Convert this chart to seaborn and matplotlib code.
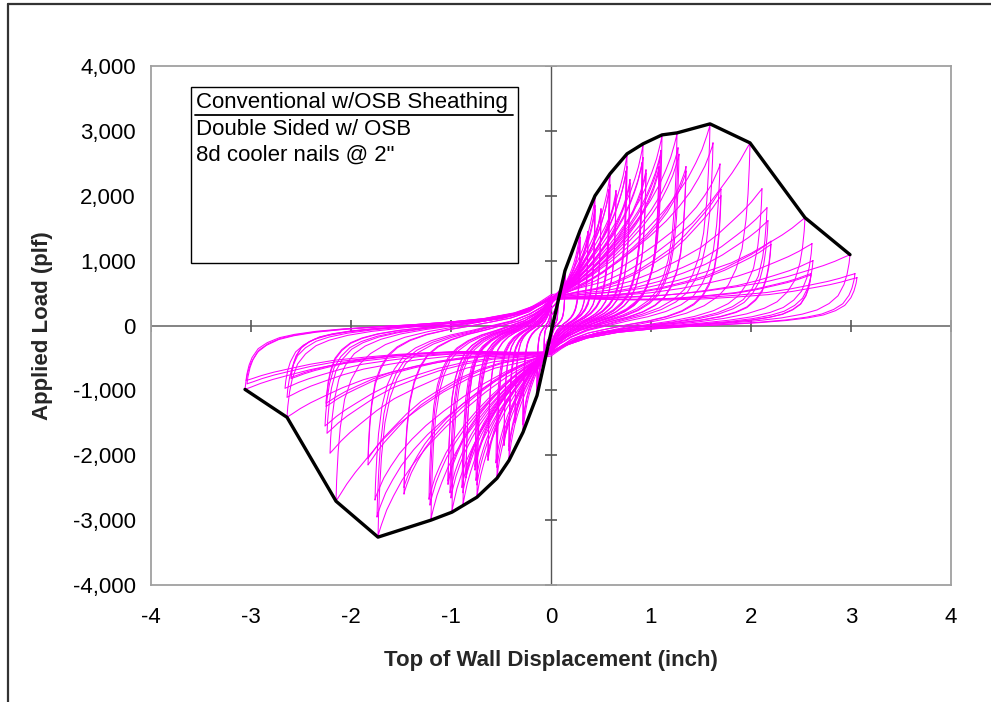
import numpy as np
import pandas as pd
import matplotlib
matplotlib.use("Agg")
import matplotlib.pyplot as plt
from matplotlib.lines import Line2D
from matplotlib.patches import Rectangle
from matplotlib.ticker import FuncFormatter
import seaborn as sns

### Cycle peaks
# positive excursion: peak displacement (inch) and peak load (plf)
pos_disp = [0.07, 0.07, 0.07, 0.14, 0.14, 0.14, 0.29, 0.29, 0.29,
            0.44, 0.44, 0.44, 0.37, 0.37,
            0.59, 0.59, 0.58, 0.50, 0.50,
            0.76, 0.76, 0.75, 0.65, 0.65,
            0.92, 0.92, 0.91, 0.79, 0.79,
            1.11, 1.10, 1.09, 0.95, 0.95,
            1.26, 1.27, 1.28, 1.08, 1.08,
            1.59, 1.62, 1.69, 1.35, 1.35,
            1.99, 2.11, 2.16, 2.17, 1.70, 1.70,
            2.54, 2.61, 2.62, 2.20, 2.20,
            2.99, 3.04, 3.06, 2.60, 2.60]
pos_load = [480, 450, 440, 846, 790, 760, 1462, 1360, 1310,
            2000, 1850, 1790, 1450, 1400,
            2338, 2170, 2100, 1800, 1760,
            2646, 2450, 2380, 2080, 2030,
            2800, 2590, 2510, 2250, 2200,
            2938, 2700, 2600, 2400, 2350,
            2969, 2740, 2640, 2450, 2400,
            3108, 2815, 2490, 2450, 2380,
            2815, 2108, 1815, 1615, 2100, 2000,
            1662, 1262, 1000, 1300, 1250,
            1092, 800, 738, 800, 780]
# negative excursion (magnitudes)
neg_disp = [0.07, 0.07, 0.07, 0.14, 0.14, 0.14, 0.28, 0.28, 0.28,
            0.42, 0.42, 0.42, 0.36, 0.36,
            0.54, 0.54, 0.55, 0.47, 0.47,
            0.74, 0.74, 0.75, 0.63, 0.63,
            0.88, 0.88, 0.89, 0.76, 0.76,
            0.99, 1.00, 1.01, 0.85, 0.85,
            1.20, 1.21, 1.22, 1.03, 1.03,
            1.73, 1.74, 1.76, 1.47, 1.47,
            2.15, 2.21, 2.24, 2.26, 1.83, 1.83,
            2.64, 2.64, 2.66, 2.25, 2.25,
            3.06, 3.04, 3.05, 2.60, 2.60]
neg_load = [520, 490, 470, 1080, 1000, 960, 1646, 1530, 1480,
            2080, 1930, 1870, 1500, 1450,
            2354, 2190, 2120, 1850, 1800,
            2646, 2460, 2390, 2080, 2030,
            2780, 2580, 2500, 2230, 2180,
            2877, 2660, 2580, 2350, 2300,
            3000, 2770, 2680, 2450, 2400,
            3262, 2954, 2692, 2600, 2500,
            2708, 1970, 1662, 1550, 2150, 2050,
            1415, 1108, 969, 1250, 1200,
            985, 900, 850, 820, 800]
# load where each loop crosses zero displacement (pinching)
pinch_load = [150, 150, 150, 250, 250, 250, 320, 320, 320,
              360, 360, 360, 330, 330,
              380, 380, 380, 350, 350,
              400, 400, 400, 370, 370,
              400, 400, 400, 380, 380,
              400, 400, 400, 380, 380,
              400, 400, 400, 380, 380,
              400, 400, 400, 380, 380,
              390, 390, 390, 385, 380, 380,
              385, 385, 385, 380, 380,
              385, 385, 385, 380, 380]
post_peak = [False] * 44 + [True] * 16

### Envelope (black)
env_disp = [-3.06, -2.64, -2.15, -1.73, -1.20, -0.99, -0.74, -0.54, -0.42, -0.28, -0.14, 0.0,
            0.14, 0.29, 0.44, 0.59, 0.76, 0.92, 1.11, 1.26, 1.59, 1.99, 2.54, 2.99]
env_load = [-985, -1415, -2708, -3262, -3000, -2877, -2646, -2354, -2080, -1646, -1080, -110,
            846, 1462, 2000, 2338, 2646, 2800, 2938, 2969, 3108, 2815, 1662, 1092]

### Normalised branch shape, positive peak -> negative peak (traced from the loops)
branch_u = [1.00, 0.997, 0.99, 0.98, 0.96, 0.93, 0.89, 0.84, 0.77, 0.68, 0.57,
            0.45, 0.33, 0.22, 0.12, 0.05, 0.00, -0.06, -0.15, -0.26, -0.38,
            -0.50, -0.61, -0.71, -0.79, -0.86, -0.91, -0.95, -0.98, -0.995, -1.00]
branch_pre = [1.00, 0.90, 0.76, 0.62, 0.46, 0.34, 0.25, 0.18, 0.13, 0.09, 0.06,
              0.04, 0.02, 0.01, 0.00, 0.00, 0.00, -0.03, -0.08, -0.15, -0.24,
              -0.34, -0.44, -0.54, -0.63, -0.72, -0.80, -0.87, -0.94, -0.98, -1.00]
branch_post = [1.00, 0.88, 0.72, 0.58, 0.42, 0.31, 0.22, 0.16, 0.11, 0.07, 0.04,
               0.02, 0.00, -0.01, -0.02, -0.03, -0.03, -0.04, -0.08, -0.13, -0.21,
               -0.31, -0.42, -0.53, -0.64, -0.75, -0.83, -0.90, -0.96, -0.99, -1.00]
branch_pinch = [0, 0, 0, 0, 0, 0, 0, 0, -0.01, -0.02, -0.04,
                -0.08, -0.14, -0.25, -0.45, -0.72, -1.00, -1.00, -0.92, -0.78, -0.62,
                -0.47, -0.34, -0.22, -0.14, -0.08, -0.04, -0.02, -0.01, 0, 0]


def scale_branch(u, a, b, dp, dn, pp, pn, p0):
    x = np.where(u >= 0, u * dp, u * dn)
    y = np.where(a >= 0, a * pp, a * pn) + b * p0
    return x, y


rows = []
u = np.array(branch_u)
b = np.array(branch_pinch)
for i in range(len(pos_disp)):
    a = np.array(branch_post if post_peak[i] else branch_pre)
    args = (pos_disp[i], neg_disp[i], pos_load[i], neg_load[i], pinch_load[i])
    x1, y1 = scale_branch(u, a, b, *args)
    x2, y2 = scale_branch(-u, -a, -b, *args)
    xs = np.concatenate([x1, x2[1:]])
    ys = np.concatenate([y1, y2[1:]])
    for xx, yy in zip(xs, ys):
        rows.append({"cycle": i, "disp": xx, "load": yy})
loops = pd.DataFrame(rows)

sns.set_theme(style="white")
plt.rcParams["font.family"] = ["Liberation Sans", "DejaVu Sans"]
plt.rcParams["axes.unicode_minus"] = False

fig = plt.figure(figsize=(9.91, 7.02), dpi=100)
ax = fig.add_axes([151 / 991, 117 / 702, 800 / 991, 519 / 702])

ax.axhline(0, color="#7a7a7a", lw=1.3, zorder=1)
ax.axvline(0, color="#555555", lw=1.0, zorder=1)

sns.lineplot(data=loops, x="disp", y="load", units="cycle", estimator=None, sort=False,
             color="#ff00ff", lw=0.75, ax=ax, zorder=2)
sns.lineplot(x=env_disp, y=env_load, sort=False, color="black", lw=2.4, ax=ax, zorder=3)

xticks = [-4, -3, -2, -1, 0, 1, 2, 3, 4]
yticks = [-4000, -3000, -2000, -1000, 0, 1000, 2000, 3000, 4000]
ax.set_xlim(-4, 4)
ax.set_ylim(-4000, 4000)
ax.set_xticks(xticks)
ax.set_yticks(yticks)
ax.xaxis.set_major_formatter(FuncFormatter(lambda v, p: f"{v:.0f}"))
ax.yaxis.set_major_formatter(FuncFormatter(lambda v, p: f"{v:,.0f}"))
ax.tick_params(axis="both", length=0, labelsize=16, colors="black")
ax.tick_params(axis="x", pad=16)
ax.tick_params(axis="y", pad=11)

# tick marks crossing the zero axes
ax.plot(xticks, [0] * len(xticks), ls="none", marker="|", ms=9, mew=1.2, color="#555555", zorder=1)
ax.plot([0] * len(yticks), yticks, ls="none", marker="_", ms=9, mew=1.2, color="#555555", zorder=1)

for s in ax.spines.values():
    s.set_color("#a0a0a0")
    s.set_linewidth(1.3)

ax.set_xlabel("Top of Wall Displacement (inch)", fontsize=16, fontweight="bold", labelpad=16)
ax.set_ylabel("Applied Load (plf)", fontsize=16, fontweight="bold", labelpad=14)

# annotation box
ax.add_patch(Rectangle((0.05, 0.6204), 0.409, 0.339, transform=ax.transAxes,
                       fill=False, edgecolor="black", lw=1.0, zorder=4))
box_lines = ["Conventional w/OSB Sheathing", "Double Sided w/ OSB", "8d cooler nails @ 2\""]
for j, line in enumerate(box_lines):
    ax.text(0.056, 0.9295 - j * 0.051, line, transform=ax.transAxes, fontsize=16,
            va="center", ha="left", color="black", zorder=5)
ax.add_line(Line2D([0.0553, 0.453], [0.9055, 0.9055], transform=ax.transAxes,
                   color="black", lw=1.3, zorder=5))

# chart frame
fig.add_artist(Line2D([8 / 991, 1.0], [1 - 4 / 702, 1 - 4 / 702], color="#333333", lw=1.6))
fig.add_artist(Line2D([8 / 991, 8 / 991], [0, 1 - 4 / 702], color="#333333", lw=1.6))

fig.savefig("out.png", dpi=100)
